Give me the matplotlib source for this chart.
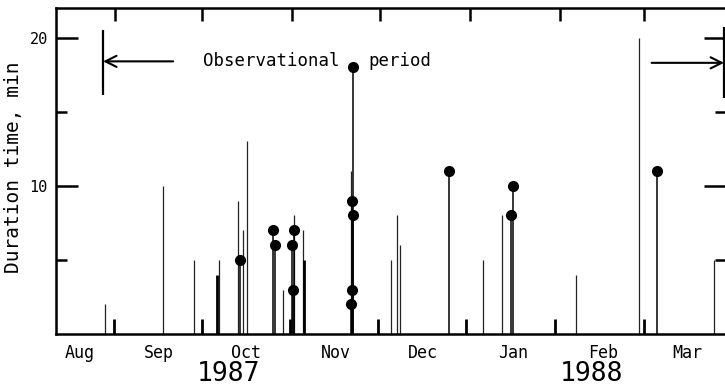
import numpy as np
import pandas as pd
import matplotlib
matplotlib.use("Agg")
import matplotlib.pyplot as plt
import matplotlib.dates as mdates
from matplotlib.transforms import blended_transform_factory

plt.rcParams["font.family"] = ["DejaVu Sans Mono"]

# single events (thin lines)
thin_dates = ["1987-08-28 13:00", "1987-09-17 14:00", "1987-09-28 07:00", "1987-10-06 19:00",
              "1987-10-13 10:00", "1987-10-15 02:00", "1987-10-16 12:00", "1987-10-28 22:00",
              "1987-11-01 17:00", "1987-11-04 19:00", "1987-11-21 05:00", "1987-12-05 00:00",
              "1987-12-07 00:00", "1987-12-08 00:00", "1988-01-05 12:00", "1988-01-12 00:00",
              "1988-02-06 14:00", "1988-02-28 07:00", "1988-03-25 00:00"]
thin_vals = [2, 10, 5, 5, 9, 7, 13, 3, 8, 7, 11, 5, 8, 6, 5, 8, 4, 20, 5]

# heavier strokes
thick_dates = ["1987-08-31 18:00", "1987-09-30 19:00", "1987-10-06 05:00", "1987-10-31 05:00",
               "1987-11-05 00:00", "1987-11-30 10:00", "1987-12-30 19:00", "1988-01-30 12:00",
               "1988-03-01 02:00"]
thick_vals = [1, 1, 4, 1, 5, 1, 1, 1, 1]

# events marked with a dot
dot_dates = ["1987-10-13 22:00", "1987-10-25 05:00", "1987-10-26 00:00", "1987-10-31 19:00",
             "1987-11-01 07:00", "1987-11-01 14:00", "1987-11-21 07:00", "1987-11-21 12:00",
             "1987-11-21 14:00", "1987-11-21 19:00", "1987-11-21 22:00", "1987-12-25 00:00",
             "1988-01-15 02:00", "1988-01-15 19:00", "1988-03-05 07:00"]
dot_vals = [5, 7, 6, 6, 3, 7, 2, 3, 9, 18, 8, 11, 8, 10, 11]

month_starts = ["1987-09-01", "1987-10-01", "1987-11-01", "1987-12-01",
                "1988-01-01", "1988-02-01", "1988-03-01"]
month_names = ["Aug", "Sep", "Oct", "Nov", "Dec", "Jan", "Feb", "Mar"]
month_label_dates = ["1987-08-20", "1987-09-16", "1987-10-16", "1987-11-16",
                     "1987-12-16", "1988-01-16", "1988-02-16", "1988-03-16"]
years = ["1987", "1988"]
year_dates = ["1987-10-10", "1988-02-12"]

obs_start = "1987-08-27 22:00"
obs_end = "1988-03-28 12:00"


def dn(d):
    return mdates.date2num(pd.to_datetime(d))


fig = plt.figure(figsize=(7.25, 3.91), dpi=100)
ax = fig.add_axes([0.0772, 0.1458, 0.9245, 0.8337])

ax.vlines(dn(thin_dates), 0, thin_vals, color="#222222", lw=0.9)
ax.vlines(dn(thick_dates), 0, thick_vals, color="black", lw=2.0)
ax.vlines(dn(dot_dates), 0, dot_vals, color="black", lw=1.1)
ax.plot(dn(dot_dates), dot_vals, "o", color="black", markersize=7, zorder=3)

# observational period markers
ax.vlines([dn(obs_start)], 16.1, 20.5, color="black", lw=1.6)
ax.vlines([dn(obs_end)], 15.9, 20.7, color="black", lw=1.6, clip_on=False)
ax.annotate("", xy=(dn(obs_start), 18.4), xytext=(dn("1987-09-21"), 18.4),
            arrowprops=dict(arrowstyle="->", lw=1.5, mutation_scale=20, shrinkA=0, shrinkB=0))
ax.annotate("", xy=(dn(obs_end), 18.3), xytext=(dn("1988-03-03 14:00"), 18.3),
            arrowprops=dict(arrowstyle="->", lw=1.5, mutation_scale=20, shrinkA=0, shrinkB=0))
ax.text(dn("1987-10-01 07:00"), 18.4, "Observational", fontsize=12.5, va="center", ha="left")
ax.text(dn("1987-11-27"), 18.4, "period", fontsize=12.5, va="center", ha="left")

ax.set_xlim(dn("1987-08-11 17:00"), dn("1988-03-29 06:00"))
ax.set_ylim(0, 22)

for s in ax.spines.values():
    s.set_linewidth(1.8)

ax.set_xticks(dn(month_starts))
ax.set_xticks(dn(month_label_dates), minor=True)
ax.set_xticklabels(month_names, minor=True)
ax.tick_params(axis="x", which="major", top=True, bottom=False, direction="in",
               length=9.5, width=1.8, labelbottom=False)
ax.tick_params(axis="x", which="minor", bottom=True, length=0, labelsize=12, pad=7)

ax.set_yticks([10, 20])
ax.set_yticks([5, 15], minor=True)
ax.tick_params(axis="y", which="major", left=True, right=True, direction="in",
               length=16, width=1.8, labelsize=11, pad=6)
ax.tick_params(axis="y", which="minor", left=True, right=True, direction="in",
               length=8, width=1.8)

fig.text(0.019, 0.573, "Duration time, min", rotation=90, fontsize=14,
         ha="center", va="center")

tr = blended_transform_factory(ax.transData, fig.transFigure)
for y, d in zip(years, year_dates):
    ax.text(dn(d), 0.0435, y, transform=tr, fontsize=19, ha="center", va="center")

fig.savefig("out.png", dpi=100)
